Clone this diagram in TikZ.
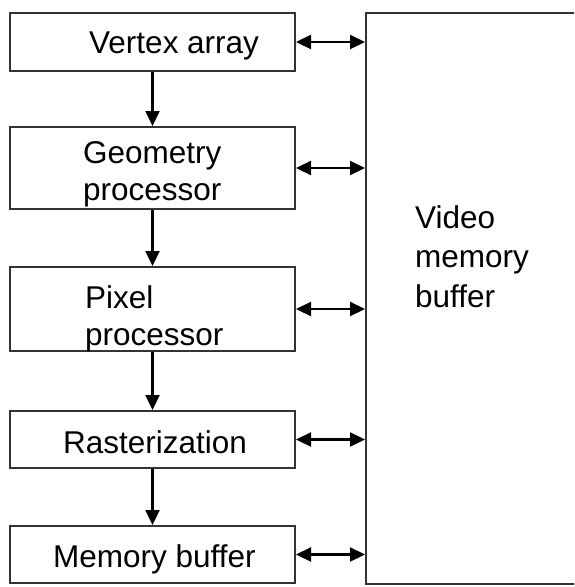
\documentclass[tikz,border=0pt]{standalone}
\usepackage{fontspec}
\setmainfont{Liberation Sans}
\usetikzlibrary{arrows.meta}

\begin{document}
\begin{tikzpicture}[x=1pt, y=-1pt,
    blk/.style={draw=black!80, line width=2pt, minimum width=285pt, inner sep=0pt},
    lbl/.style={font=\fontsize{31.5}{37}\selectfont, inner sep=0pt, align=left},
    flow/.style={-{Triangle[length=15pt,width=14pt]}, line width=2.2pt},
    link/.style={{Triangle[length=15pt,width=14pt]}-{Triangle[length=15pt,width=14pt]}, line width=2.2pt}]
    \useasboundingbox (0,0) rectangle (574,587);
    \clip (0,0) rectangle (574,587);

    % Pipeline stages
    \node[blk, minimum height=58pt] (vertex) at (152.5,42) {};
    \node[blk, minimum height=82pt] (geometry) at (152.5,168) {};
    \node[blk, minimum height=84pt] (pixel) at (152.5,309) {};
    \node[blk, minimum height=57pt] (raster) at (152.5,439.5) {};
    \node[blk, minimum height=57pt] (memory) at (152.5,554.5) {};
    \node[draw=black!80, line width=2pt, minimum width=214pt, minimum height=571pt, inner sep=0pt] (vmb) at (473,298.5) {};

    % Labels
    \node[lbl, anchor=base west] (vertextxt) at (89,53) {Vertex array};
    \node[lbl, anchor=base west] (geometrytxt) at (83,200) {Geometry\\processor};
    \node[lbl, anchor=base west] (pixeltxt) at (85,345) {Pixel\\processor};
    \node[lbl, anchor=base west] (rastertxt) at (63,453) {Rasterization};
    \node[lbl, anchor=base west] (memorytxt) at (53,567) {Memory buffer};
    \node[lbl, anchor=base west, font=\fontsize{31.5}{39.5}\selectfont] (vmbtxt) at (415,307) {Video\\memory\\buffer};

    % Arrows
    \draw[flow] (vertex.south) -- (geometry.north);
    \draw[flow] (geometry.south) -- (pixel.north);
    \draw[flow] (pixel.south) -- (raster.north);
    \draw[flow] (raster.south) -- (memory.north);
    \draw[link] (vertex.east) -- (vertex.east -| vmb.west);
    \draw[link] (geometry.east) -- (geometry.east -| vmb.west);
    \draw[link] (pixel.east) -- (pixel.east -| vmb.west);
    \draw[link] (raster.east) -- (raster.east -| vmb.west);
    \draw[link] (memory.east) -- (memory.east -| vmb.west);
  \end{tikzpicture}
\end{document}
